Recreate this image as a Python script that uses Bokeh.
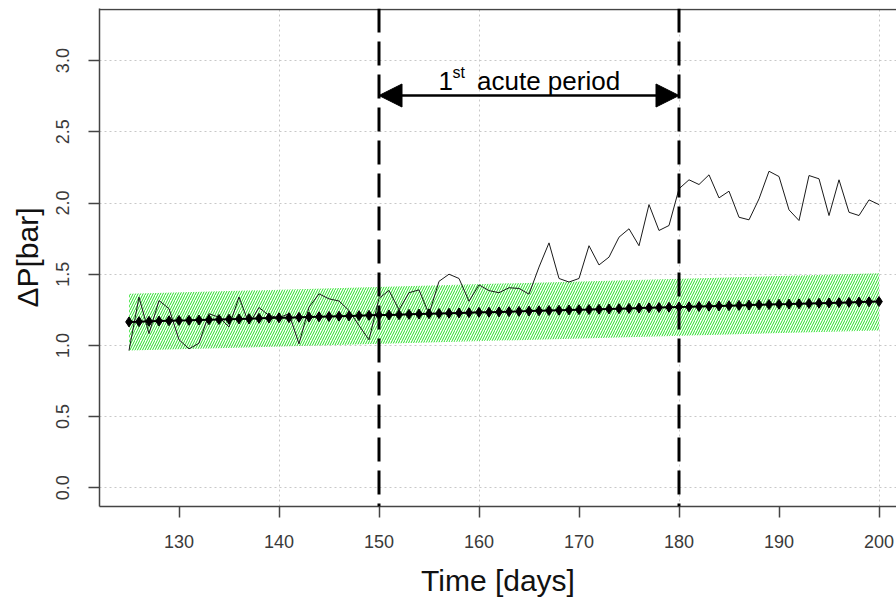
from bokeh.plotting import figure
from bokeh.models import (Range1d, FixedTicker, PrintfTickFormatter, Span, Arrow,
                          NormalHead, Label)
from bokeh.embed import file_html
from bokeh.resources import INLINE

# ---------------- data ----------------
days = list(range(125, 201))
observed = [0.964, 1.339, 1.083, 1.315, 1.258, 1.040, 0.976, 1.015, 1.222, 1.198,
            1.130, 1.340, 1.150, 1.266, 1.210, 1.195, 1.222, 1.011, 1.268, 1.362,
            1.327, 1.312, 1.245, 1.140, 1.039, 1.330, 1.386, 1.250, 1.370, 1.390,
            1.220, 1.450, 1.500, 1.470, 1.310, 1.425, 1.385, 1.370, 1.405, 1.400,
            1.360, 1.550, 1.720, 1.470, 1.445, 1.470, 1.700, 1.565, 1.620, 1.760,
            1.819, 1.700, 1.989, 1.807, 1.842, 2.100, 2.163, 2.130, 2.198, 2.036,
            2.083, 1.900, 1.882, 2.029, 2.223, 2.186, 1.952, 1.877, 2.193, 2.170,
            1.912, 2.163, 1.935, 1.912, 2.022, 1.989]
expected = [1.165, 1.167, 1.169, 1.171, 1.173, 1.175, 1.176, 1.178, 1.180, 1.182,
            1.184, 1.186, 1.188, 1.190, 1.192, 1.194, 1.195, 1.197, 1.199, 1.201,
            1.203, 1.205, 1.207, 1.209, 1.211, 1.213, 1.214, 1.216, 1.218, 1.220,
            1.222, 1.224, 1.226, 1.228, 1.230, 1.232, 1.233, 1.235, 1.237, 1.239,
            1.241, 1.243, 1.245, 1.247, 1.249, 1.251, 1.252, 1.254, 1.256, 1.258,
            1.260, 1.262, 1.264, 1.266, 1.268, 1.270, 1.271, 1.273, 1.275, 1.277,
            1.279, 1.281, 1.283, 1.285, 1.287, 1.289, 1.290, 1.292, 1.294, 1.296,
            1.298, 1.300, 1.302, 1.304, 1.306, 1.308]
band_days = [125, 200]
band_low = [0.964, 1.105]
band_high = [1.362, 1.507]
period = [150, 180]
period_arrow_y = 2.755
period_text_y = 2.860
x_ticks = [130, 140, 150, 160, 170, 180, 190, 200]
x_grid = [140, 160, 180, 200]
y_ticks = [0.0, 0.5, 1.0, 1.5, 2.0, 2.5, 3.0]

FONT = "Liberation Sans"
AXC = "#444444"

p = figure(width=896, height=605, output_backend="svg", toolbar_location=None,
           title=None,
           x_range=Range1d(122.05, 201.75), y_range=Range1d(-0.1313, 3.366),
           min_border_left=99, min_border_right=0, min_border_top=8,
           min_border_bottom=99)
p.outline_line_color = None
p.background_fill_color = "white"
p.border_fill_color = "white"

# grids
p.xgrid.ticker = FixedTicker(ticks=x_grid)
p.ygrid.ticker = FixedTicker(ticks=y_ticks)
for g in (p.xgrid, p.ygrid):
    g.grid_line_color = "#c8c8c8"
    g.grid_line_dash = "2 3"
    g.grid_line_width = 1

# axes
xa = p.xaxis[0]
xa.ticker = FixedTicker(ticks=x_ticks)
xa.axis_label = "Time [days]"
ya = p.yaxis[0]
ya.ticker = FixedTicker(ticks=y_ticks)
ya.formatter = PrintfTickFormatter(format="%.1f")
ya.axis_label = "\u0394P[bar]"
ya.major_label_orientation = "vertical"
for a in (xa, ya):
    a.axis_line_color = AXC
    a.axis_line_width = 1.5
    a.major_tick_line_color = AXC
    a.major_tick_line_width = 1.5
    a.major_tick_in = 0
    a.major_tick_out = 11
    a.minor_tick_line_color = None
    a.major_label_text_font = FONT
    a.major_label_text_font_size = "18px"
    a.major_label_text_color = "#3a3a3a"
    a.axis_label_text_font = FONT
    a.axis_label_text_font_size = "30px"
    a.axis_label_text_font_style = "normal"
    a.axis_label_text_color = "#111111"
xa.major_label_standoff = 17
xa.axis_label_standoff = 13
ya.major_label_standoff = 19
ya.axis_label_standoff = 10

# top frame line
p.add_layout(Span(location=3.359, dimension="width", line_color=AXC, line_width=1.5))

# band
p.varea(x=band_days, y1=band_low, y2=band_high, fill_alpha=0,
        hatch_pattern="/", hatch_color="#22e022", hatch_scale=5, hatch_weight=1)

# observed line
p.line(days, observed, line_color="#1a1a1a", line_width=1)

# expected line with diamonds
p.line(days, expected, line_color="black", line_width=2)
p.scatter(days, expected, marker="diamond", size=10, fill_color="black",
          line_color="black")

# period lines
for d in period:
    p.add_layout(Span(location=d, dimension="height", line_color="black",
                      line_width=3, line_dash="24 9"))

p.add_layout(Arrow(x_start=period[0], x_end=period[1], y_start=period_arrow_y,
                   y_end=period_arrow_y, line_width=2.5, line_color="black",
                   start=NormalHead(size=23, fill_color="black", line_color="black"),
                   end=NormalHead(size=23, fill_color="black", line_color="black")))

tx = 155.95
p.add_layout(Label(x=tx, y=period_text_y, text="1", text_font=FONT,
                   text_font_size="26px", text_baseline="alphabetic",
                   text_align="left", text_color="black"))
p.add_layout(Label(x=tx, y=period_text_y, x_offset=14, y_offset=8, text="st",
                   text_font=FONT, text_font_size="16px", text_baseline="alphabetic",
                   text_align="left", text_color="black"))
p.add_layout(Label(x=tx, y=period_text_y, x_offset=38.5, text="acute period",
                   text_font=FONT, text_font_size="26px", text_baseline="alphabetic",
                   text_align="left", text_color="black"))

open("out.html", "w").write(file_html(p, INLINE))
